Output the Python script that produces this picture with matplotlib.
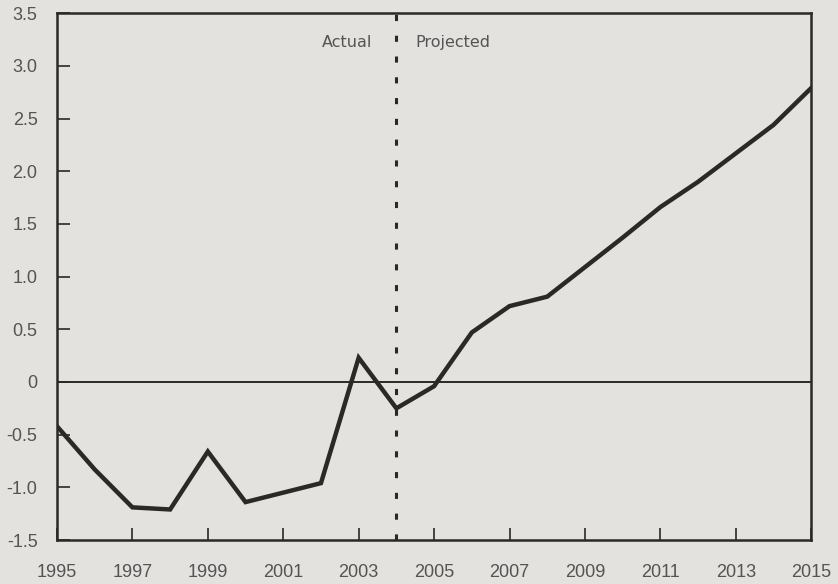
import matplotlib.pyplot as plt

# Values
years = list(range(1995, 2016))
values = [-0.42, -0.83, -1.19, -1.21, -0.66, -1.14, -1.05, -0.96, 0.23, -0.25,
          -0.04, 0.47, 0.72, 0.81, 1.09, 1.37, 1.66, 1.90, 2.17, 2.44, 2.79]
split_year = 2004
xticks = list(range(1995, 2016, 2))
yticks = [-1.5, -1.0, -0.5, 0, 0.5, 1.0, 1.5, 2.0, 2.5, 3.0, 3.5]
ytick_labels = ['-1.5', '-1.0', '-0.5', '0', '0.5', '1.0', '1.5', '2.0', '2.5', '3.0', '3.5']

bg = '#e4e2df'
ink = '#2b2828'
txt = '#555353'

plt.rcParams['font.family'] = ['Liberation Sans', 'DejaVu Sans']

fig = plt.figure(figsize=(8.38, 5.84), dpi=100, facecolor=bg)
ax = fig.add_axes([0.068, 0.0753, 0.9, 0.902], facecolor=bg)

ax.plot(years, values, color=ink, linewidth=3.2, solid_joinstyle='miter', zorder=3)
ax.axhline(0, color=ink, linewidth=1.4, zorder=2)
ax.axvline(split_year, color=ink, linewidth=2.2, linestyle=(0, (2.0, 4.8)), zorder=2)

ax.text(split_year - 0.65, 3.22, 'Actual', ha='right', va='center', fontsize=11.5,
        color=txt, family='DejaVu Sans')
ax.text(split_year + 0.5, 3.22, 'Projected', ha='left', va='center', fontsize=11.5,
        color=txt, family='DejaVu Sans')

ax.set_xlim(1995, 2015)
ax.set_ylim(-1.5, 3.5)
ax.set_xticks(xticks)
ax.set_yticks(yticks)
ax.set_yticklabels(ytick_labels)
ax.tick_params(direction='in', length=9, width=1.2, color=ink, labelcolor=txt,
               labelsize=13)
ax.tick_params(axis='x', pad=17)
ax.tick_params(axis='y', pad=14)
for s in ax.spines.values():
    s.set_color(ink)
    s.set_linewidth(1.8)

fig.savefig('out.png', dpi=100, facecolor=bg)
